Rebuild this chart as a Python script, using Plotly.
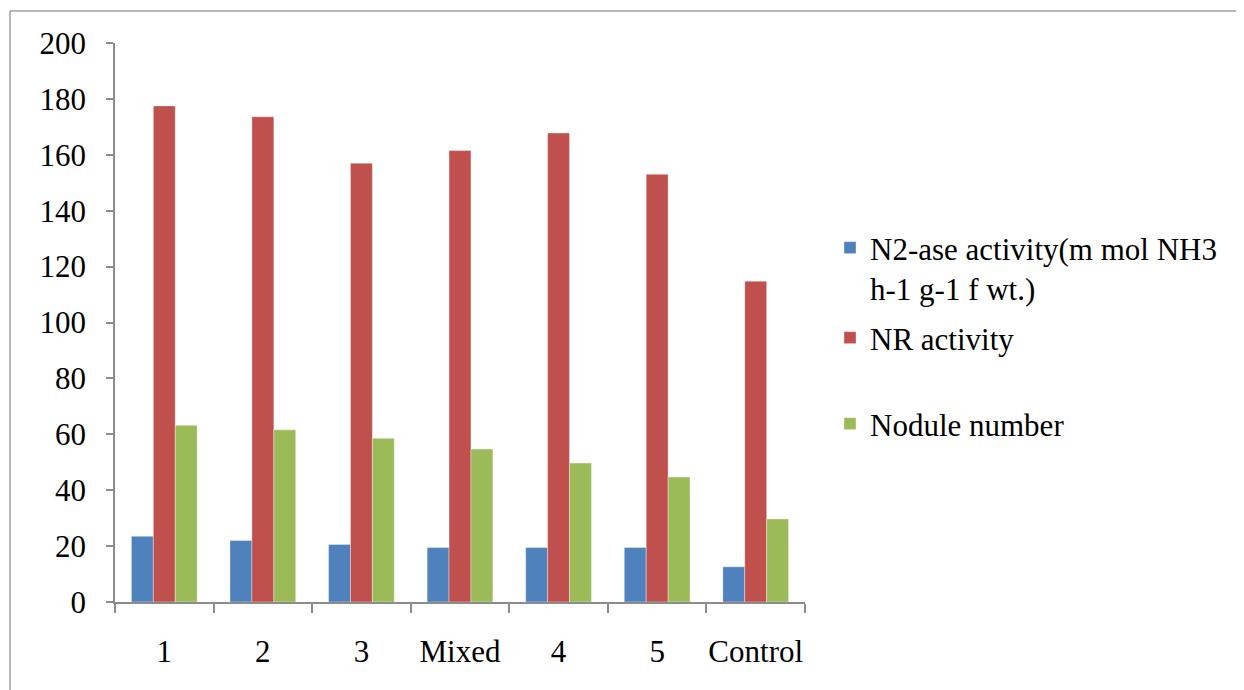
import plotly.graph_objects as go

categories = ["1", "2", "3", "Mixed", "4", "5", "Control"]
n2ase = [23.5, 22, 20.6, 19.5, 19.5, 19.5, 12.6]
nr_activity = [177.5, 173.6, 157, 161.5, 167.8, 153, 114.8]
nodule_number = [63.2, 61.6, 58.6, 54.7, 49.7, 44.7, 29.7]

names = ["N2-ase activity(m mol NH3<br>h-1 g-1 f wt.)", "NR activity", "Nodule number"]
colors = ["#4F81BD", "#C0504D", "#9BBB59"]

FONT = "Times New Roman"

fig = go.Figure()
for vals, name, col, lg in zip([n2ase, nr_activity, nodule_number], names, colors,
                               ["legend", "legend2", "legend3"]):
    fig.add_trace(go.Bar(x=categories, y=vals, name=name, legend=lg,
                         marker=dict(color=col, line=dict(width=0.6, color="rgba(255,255,255,0.6)"))))

# page offset (body margin) compensation
OFF = 8
W, H = 1244 - OFF, 690 - OFF
L, R, T, B = 115 - OFF, 439, 43 - OFF, 88
pw, ph = W - L - R, H - T - B

def px_x(x):
    return (x - OFF - L) / pw

def px_y(y):
    return (H - B - (y - OFF)) / ph

leg_common = dict(x=px_x(830), xanchor="left", yanchor="middle", valign="top",
                  font=dict(family=FONT, size=31, color="black"), bgcolor="rgba(0,0,0,0)")

fig.update_layout(
    width=W, height=H,
    margin=dict(l=L, r=R, t=T, b=B, autoexpand=False),
    barmode="group", bargap=0.333, bargroupgap=0,
    plot_bgcolor="white", paper_bgcolor="white",
    font=dict(family=FONT, size=30, color="black"),
    showlegend=True,
    legend=dict(y=px_y(268), **leg_common),
    legend2=dict(y=px_y(338), **leg_common),
    legend3=dict(y=px_y(424), **leg_common),
    xaxis=dict(showline=True, linecolor="#8C8C8C", linewidth=1.5, ticks="outside",
               tickson="boundaries", ticklen=9, tickcolor="#8C8C8C", tickwidth=1.5,
               showgrid=False, ticklabelstandoff=21, tickangle=0, automargin=False,
               tickfont=dict(family=FONT, size=31, color="black")),
    yaxis=dict(range=[0, 200], dtick=20, showline=True, linecolor="#8C8C8C", linewidth=1.5,
               ticks="outside", ticklen=7, tickcolor="#8C8C8C", tickwidth=1.5,
               showgrid=False, zeroline=False, ticklabelstandoff=14, automargin=False,
               tickfont=dict(family=FONT, size=31, color="black")),
    shapes=[
        dict(type="line", xref="paper", yref="paper", x0=px_x(10), x1=px_x(1244),
             y0=px_y(11), y1=px_y(11), line=dict(color="#A0A0A0", width=1.5)),
        dict(type="line", xref="paper", yref="paper", x0=px_x(10), x1=px_x(10),
             y0=px_y(11), y1=px_y(690), line=dict(color="#A0A0A0", width=1.5)),
    ],
)

fig.write_html("out.html")
